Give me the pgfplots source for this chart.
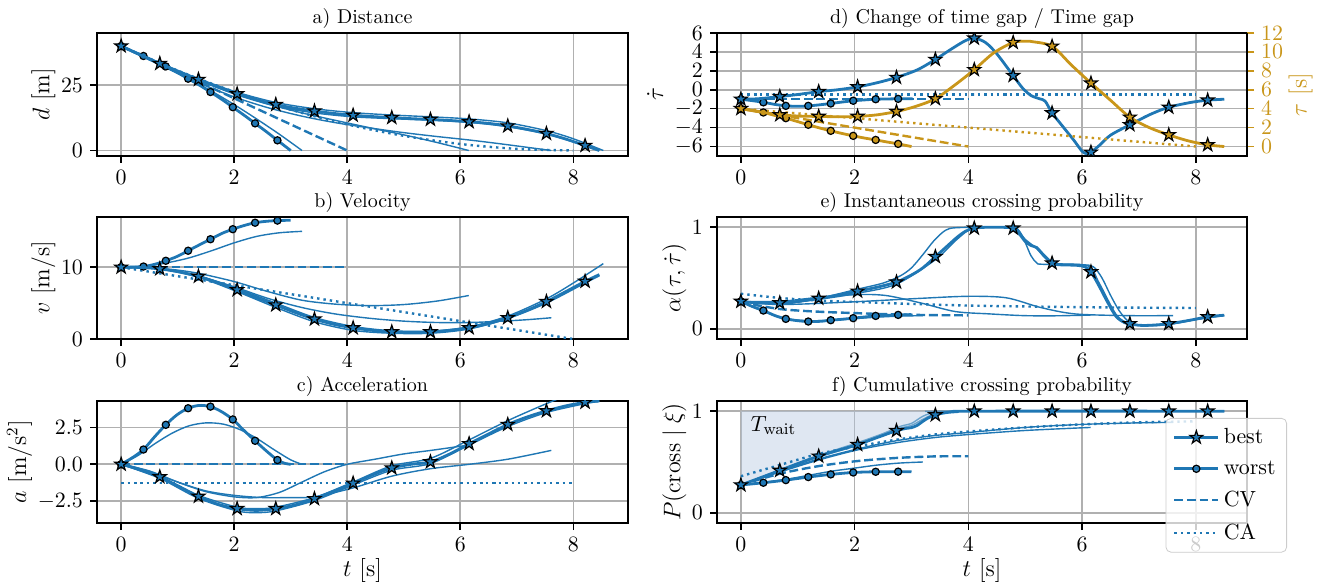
\documentclass[border=0pt]{standalone}
\usepackage{pgfplots}
\pgfplotsset{compat=1.18}
\definecolor{mpblue}{RGB}{31,119,180}
\definecolor{mpgold}{RGB}{201,150,26}
\definecolor{gridgray}{RGB}{176,176,176}
\definecolor{waitfill}{RGB}{176,196,222}
\pgfdeclareplotmark{mstar}{%
  \pgfpathmoveto{\pgfpointpolar{90}{\pgfplotmarksize}}%
  \pgfpathlineto{\pgfpointpolar{126}{0.382\pgfplotmarksize}}%
  \pgfpathlineto{\pgfpointpolar{162}{\pgfplotmarksize}}%
  \pgfpathlineto{\pgfpointpolar{198}{0.382\pgfplotmarksize}}%
  \pgfpathlineto{\pgfpointpolar{234}{\pgfplotmarksize}}%
  \pgfpathlineto{\pgfpointpolar{270}{0.382\pgfplotmarksize}}%
  \pgfpathlineto{\pgfpointpolar{306}{\pgfplotmarksize}}%
  \pgfpathlineto{\pgfpointpolar{342}{0.382\pgfplotmarksize}}%
  \pgfpathlineto{\pgfpointpolar{18}{\pgfplotmarksize}}%
  \pgfpathlineto{\pgfpointpolar{54}{0.382\pgfplotmarksize}}%
  \pgfpathclose
  \pgfusepathqfillstroke
}
\pgfplotsset{
 every axis title shift=0pt,
 base/.style={scale only axis, anchor=south west, grid=major,
   grid style={line width=0.8pt, gridgray},
   axis line style={line width=0.8pt},
   tick align=outside, tick pos=left, major tick length=3.5pt,
   tick style={black, line width=0.8pt},
   ticklabel style={font=\fontsize{10.95}{13}\selectfont},
   label style={font=\large},
   ylabel shift=-4pt, xlabel shift=-3pt,
   title style={font=\normalsize, yshift=-1.5pt},
   clip marker paths=true, xtick={0,2,4,6,8}},
 leftcol/.style={base, width=265.5pt, xmin=-0.427, xmax=8.967},
 rightcol/.style={base, width=265pt, xmin=-0.42, xmax=8.90},
 bestl/.style={mpblue, line width=1.4pt, smooth, tension=0.5, forget plot},
 bestm/.style={only marks, mark=mstar, mark size=3.4pt, mark options={fill=mpblue, draw=black, line width=0.6pt, solid, sharp corners}, forget plot},
 worstl/.style={mpblue, line width=1.4pt, smooth, tension=0.5, forget plot},
 worstm/.style={only marks, mark=*, mark size=1.8pt, mark options={fill=mpblue, draw=black, line width=0.6pt, solid}, forget plot},
 thin/.style={mpblue, line width=0.7pt, smooth, tension=0.5, forget plot},
 cv/.style={mpblue, line width=1.2pt, dash pattern=on 4.4pt off 1.9pt, forget plot},
 ca/.style={mpblue, line width=1.2pt, dash pattern=on 1.2pt off 2pt, smooth, forget plot},
}
\begin{document}
\begin{tikzpicture}
\useasboundingbox (0,0) rectangle (660pt,292pt);
% ---------------- a) Distance
\begin{axis}[leftcol, at={(48.5pt,214pt)}, height=61.5pt, ymin=-2.1, ymax=45, ytick={0,25},
  title={a) Distance}, ylabel={$d$ [m]}]
\addplot[thin] coordinates {(0,40)(0.4,35.97)(0.8,31.82)(1.2,27.44)(1.6,22.72)(2.0,17.58)(2.4,12.04)(2.8,6.22)(3.2,0)};
\addplot[thin] coordinates {(0,40)(0.5,35.1)(1,30.5)(1.4,26.9)(2,22.0)(2.6,17.8)(3.2,14.4)(3.8,11.5)(4.4,8.7)(5,6.0)(5.6,3.0)(6.15,0)};
\addplot[thin] coordinates {(0,40)(0.7,32.6)(1.39,25.8)(1.99,20.6)(2.58,16.5)(3.19,13.2)(3.78,10.7)(4.38,8.7)(4.98,6.9)(5.57,5.4)(6.17,4.0)(6.77,2.4)(7.61,0)};
\addplot[thin] coordinates {(0,40)(0.684,33.4)(1.368,27.5)(2.052,22.3)(2.736,18.4)(3.42,16.0)(4.104,14.5)(4.788,13.6)(5.472,12.9)(6.156,12.1)(6.84,10.6)(7.524,7.6)(8.0,4.5)(8.53,0)};
\addplot[thin] coordinates {(0,40)(0.684,33.2)(1.368,27.0)(2.052,21.3)(2.736,17.0)(3.42,14.4)(4.104,12.9)(4.788,12.2)(5.472,11.6)(6.156,10.8)(6.84,9.1)(7.524,6.3)(8.208,1.9)(8.46,0)};
\addplot[cv] coordinates {(0,40)(4,0)};
\addplot[ca] coordinates {(0,40)(1,30.625)(2,22.5)(3,15.625)(4,10)(5,5.625)(6,2.5)(7,0.625)(8,0)};
\addplot[worstl] coordinates {(0,40)(0.2,38.0)(0.395,36.2)(0.59,34.2)(0.79,32.2)(0.99,29.9)(1.185,27.5)(1.38,25.1)(1.58,22.4)(1.78,19.6)(1.975,16.6)(2.17,13.6)(2.37,10.4)(2.57,7.2)(2.765,3.9)(3.0,0)};
\addplot[worstm] coordinates {(0,40)(0.395,36.2)(0.79,32.2)(1.185,27.5)(1.58,22.4)(1.975,16.6)(2.37,10.4)(2.765,3.9)};
\addplot[bestl] coordinates {(0,40)(0.342,36.6)(0.684,33.3)(1.026,30.2)(1.368,27.2)(1.71,24.3)(2.052,21.7)(2.394,19.5)(2.736,17.6)(3.078,16.2)(3.42,15.1)(3.762,14.2)(4.104,13.5)(4.446,13.0)(4.788,12.6)(5.13,12.2)(5.472,11.9)(5.814,11.5)(6.156,11.0)(6.498,10.4)(6.84,9.4)(7.182,8.1)(7.524,6.5)(7.866,4.4)(8.208,1.9)(8.46,0)};
\addplot[bestm] coordinates {(0,40)(0.684,33.3)(1.368,27.2)(2.052,21.7)(2.736,17.6)(3.42,15.1)(4.104,13.5)(4.788,12.6)(5.472,11.9)(6.156,11.0)(6.84,9.4)(7.524,6.5)(8.208,1.9)};
\end{axis}
% ---------------- b) Velocity
\begin{axis}[leftcol, at={(48.5pt,122.5pt)}, height=61pt, ymin=0, ymax=17, ytick={0,10},
  title={b) Velocity}, ylabel={$v$ [m/s]}]
\addplot[thin] coordinates {(0,10)(0.4,10.15)(0.8,10.6)(1.2,11.3)(1.6,12.3)(2.0,13.4)(2.4,14.3)(2.8,14.8)(3.2,15.0)};
\addplot[thin] coordinates {(0,10)(0.5,9.95)(1.0,9.6)(1.4,9.1)(2.0,8.0)(2.6,6.6)(3.2,5.4)(3.8,4.85)(4.4,4.65)(5.0,4.8)(5.6,5.3)(6.15,6.06)};
\addplot[thin] coordinates {(0,10)(0.7,9.8)(1.39,8.7)(1.99,7.3)(2.58,5.7)(3.19,4.4)(3.78,3.5)(4.38,2.9)(4.98,2.5)(5.57,2.3)(6.17,2.3)(6.77,2.5)(7.2,2.7)(7.61,2.96)};
\addplot[thin] coordinates {(0,10)(0.684,9.8)(1.368,8.8)(2.052,7.0)(2.736,5.0)(3.42,3.0)(4.104,1.75)(4.788,1.15)(5.472,1.1)(6.156,1.7)(6.84,3.2)(7.524,5.6)(8.0,7.8)(8.53,10.5)};
\addplot[thin] coordinates {(0,10)(0.684,9.75)(1.368,8.6)(2.052,6.6)(2.736,4.4)(3.42,2.4)(4.104,1.2)(4.788,0.8)(5.472,0.8)(6.156,1.4)(6.84,2.85)(7.524,5.0)(8.208,7.8)(8.46,8.8)};
\addplot[cv] coordinates {(0,10)(4,10)};
\addplot[ca] coordinates {(0,10)(8,0)};
\addplot[worstl] coordinates {(0,10)(0.2,10.02)(0.395,10.1)(0.59,10.4)(0.79,10.9)(0.99,11.5)(1.185,12.3)(1.38,13.1)(1.58,13.9)(1.78,14.7)(1.975,15.3)(2.17,15.8)(2.37,16.2)(2.57,16.4)(2.765,16.5)(3.0,16.55)};
\addplot[worstm] coordinates {(0,10)(0.395,10.1)(0.79,10.9)(1.185,12.3)(1.58,13.9)(1.975,15.3)(2.37,16.2)(2.765,16.5)};
\addplot[bestl] coordinates {(0,10)(0.342,9.97)(0.684,9.77)(1.026,9.35)(1.368,8.73)(1.71,7.85)(2.052,6.85)(2.394,5.75)(2.736,4.74)(3.078,3.7)(3.42,2.77)(3.762,2.05)(4.104,1.55)(4.446,1.2)(4.788,0.99)(5.13,0.93)(5.472,0.99)(5.814,1.2)(6.156,1.55)(6.498,2.15)(6.84,2.96)(7.182,4.0)(7.524,5.21)(7.866,6.6)(8.208,8.03)(8.46,8.97)};
\addplot[bestm] coordinates {(0,10)(0.684,9.77)(1.368,8.73)(2.052,6.85)(2.736,4.74)(3.42,2.77)(4.104,1.55)(4.788,0.99)(5.472,0.99)(6.156,1.55)(6.84,2.96)(7.524,5.21)(8.208,8.03)};
\end{axis}
% ---------------- c) Acceleration
\begin{axis}[leftcol, at={(48.5pt,30.5pt)}, height=61pt, ymin=-3.97, ymax=4.28, ytick={-2.5,0,2.5},
  yticklabel style={/pgf/number format/fixed, /pgf/number format/precision=1, /pgf/number format/fixed zerofill},
  title={c) Acceleration}, ylabel={$a$ [m/s$^2$]}, xlabel={$t$ [s]}]
\addplot[thin] coordinates {(0,0)(0.3,0.6)(0.6,1.4)(0.9,2.1)(1.2,2.6)(1.5,2.8)(1.8,2.72)(2.1,2.35)(2.4,1.75)(2.7,1.0)(3.0,0.3)(3.2,0)};
\addplot[thin] coordinates {(0,0)(0.5,-0.45)(1.0,-1.2)(1.5,-1.85)(2.0,-2.2)(2.4,-2.25)(2.8,-1.9)(3.2,-1.2)(3.6,-0.5)(4.0,0.0)(4.5,0.35)(5.0,0.7)(5.5,0.95)(6.15,1.3)};
\addplot[thin] coordinates {(0,0)(0.5,-0.5)(1.0,-1.2)(1.5,-1.8)(2.0,-2.1)(2.5,-2.25)(3.0,-2.25)(3.42,-2.2)(4.1,-1.6)(4.79,-0.8)(5.47,-0.3)(6.16,0.0)(6.85,0.35)(7.61,0.94)};
\addplot[thin] coordinates {(0,0)(0.684,-0.9)(1.368,-2.1)(2.052,-2.9)(2.394,-3.0)(2.736,-2.9)(3.42,-2.25)(4.104,-1.2)(4.788,-0.1)(5.472,0.4)(6.156,1.65)(6.84,2.95)(7.524,4.1)(8.0,4.8)(8.53,5.3)};
\addplot[thin] coordinates {(0,0)(0.684,-0.95)(1.368,-2.3)(2.052,-3.15)(2.394,-3.27)(2.736,-3.15)(3.42,-2.45)(4.104,-1.4)(4.788,-0.4)(5.472,0.05)(6.156,1.3)(6.84,2.55)(7.524,3.5)(8.208,4.1)(8.46,4.25)};
\addplot[cv] coordinates {(0,0)(4,0)};
\addplot[ca] coordinates {(0,-1.25)(8,-1.25)};
\addplot[worstl] coordinates {(0,0)(0.2,0.45)(0.395,1.0)(0.59,1.85)(0.79,2.67)(0.99,3.35)(1.185,3.79)(1.38,3.98)(1.58,3.9)(1.78,3.55)(1.975,3.03)(2.17,2.3)(2.37,1.59)(2.57,0.9)(2.765,0.29)(2.9,0.06)(3.0,0)};
\addplot[worstm] coordinates {(0,0)(0.395,1.0)(0.79,2.67)(1.185,3.79)(1.58,3.9)(1.975,3.03)(2.37,1.59)(2.765,0.29)};
\addplot[bestl] coordinates {(0,0)(0.342,-0.35)(0.684,-0.85)(1.026,-1.5)(1.368,-2.17)(1.71,-2.7)(2.052,-3.0)(2.394,-3.12)(2.736,-3.0)(3.078,-2.75)(3.42,-2.33)(3.762,-1.82)(4.104,-1.28)(4.446,-0.72)(4.788,-0.25)(5.13,0.0)(5.472,0.16)(5.814,0.7)(6.156,1.39)(6.498,2.05)(6.84,2.69)(7.182,3.2)(7.524,3.61)(7.866,3.95)(8.208,4.19)(8.46,4.28)};
\addplot[bestm] coordinates {(0,0)(0.684,-0.85)(1.368,-2.17)(2.052,-3.0)(2.736,-3.0)(3.42,-2.33)(4.104,-1.28)(4.788,-0.25)(5.472,0.16)(6.156,1.39)(6.84,2.69)(7.524,3.61)(8.208,4.19)};
\end{axis}
% ---------------- d) tau dot (left)
\begin{axis}[rightcol, at={(358.5pt,214pt)}, height=61.5pt, ymin=-7, ymax=6, ytick={-6,-4,...,6},
  title={d) Change of time gap / Time gap}, ylabel={$\dot{\tau}$}, ylabel shift=-1pt]
\addplot[cv] coordinates {(0,-1)(4,-1)};
\addplot[ca] coordinates {(0,-0.5)(8,-0.5)};
\addplot[worstl] coordinates {(0,-1.0)(0.2,-1.15)(0.41,-1.34)(0.6,-1.55)(0.8,-1.7)(1.0,-1.75)(1.2,-1.7)(1.4,-1.58)(1.58,-1.45)(1.8,-1.28)(1.98,-1.16)(2.2,-1.06)(2.37,-1.0)(2.6,-0.97)(2.77,-0.95)(3.02,-0.95)};
\addplot[worstm] coordinates {(0,-1.0)(0.395,-1.33)(0.79,-1.7)(1.185,-1.7)(1.58,-1.45)(1.975,-1.16)(2.37,-1.0)(2.765,-0.96)};
\addplot[bestl] coordinates {(0,-1.0)(0.3,-0.95)(0.684,-0.72)(1.0,-0.5)(1.368,-0.2)(1.7,0.0)(2.052,0.3)(2.4,0.75)(2.736,1.3)(3.1,2.1)(3.42,3.2)(3.7,4.3)(3.95,5.2)(4.104,5.45)(4.3,5.0)(4.5,3.8)(4.788,1.5)(4.95,0.2)(5.1,-0.6)(5.25,-0.95)(5.35,-1.2)(5.472,-2.45)(5.65,-3.8)(5.85,-5.3)(6.0,-6.5)(6.08,-6.75)(6.156,-6.6)(6.3,-5.9)(6.5,-4.8)(6.84,-3.7)(7.2,-2.6)(7.524,-1.85)(7.9,-1.35)(8.208,-1.1)(8.5,-1.0)};
\addplot[bestm] coordinates {(0,-1.0)(0.684,-0.72)(1.368,-0.2)(2.052,0.3)(2.736,1.3)(3.42,3.2)(4.104,5.45)(4.788,1.5)(5.472,-2.45)(6.156,-6.6)(6.84,-3.7)(7.524,-1.85)(8.208,-1.1)};
\end{axis}
% ---------------- d) tau (right)
\begin{axis}[scale only axis, anchor=south west, at={(358.5pt,214pt)}, width=265pt, height=61.5pt,
  xmin=-0.42, xmax=8.90, ymin=-1, ymax=12, ytick={0,2,...,12},
  axis x line=none, axis y line*=right, axis line style={line width=0.8pt},
  tick align=outside, major tick length=3.5pt, tick style={mpgold, line width=0.8pt},
  ticklabel style={font=\fontsize{10.95}{13}\selectfont, text=mpgold},
  ylabel={$\tau$ [s]}, ylabel style={font=\large, text=mpgold}, ylabel shift=-4pt, clip marker paths=true]
\addplot[cv, mpgold] coordinates {(0,4)(4,0)};
\addplot[ca, mpgold] coordinates {(0,4)(8,0)};
\addplot[worstl, mpgold] coordinates {(0,4.0)(0.2,3.83)(0.395,3.6)(0.59,3.3)(0.79,3.0)(0.99,2.65)(1.185,2.3)(1.38,1.97)(1.58,1.66)(1.78,1.38)(1.975,1.13)(2.17,0.9)(2.37,0.7)(2.57,0.48)(2.765,0.28)(3.0,0)};
\addplot[worstm, mark options={fill=mpgold, draw=black, line width=0.6pt}] coordinates {(0,4)(0.395,3.6)(0.79,3.0)(1.185,2.3)(1.58,1.66)(1.975,1.13)(2.37,0.7)(2.765,0.28)};
\addplot[bestl, mpgold] coordinates {(0,4.0)(0.342,3.65)(0.684,3.35)(1.026,3.22)(1.368,3.18)(1.71,3.15)(2.052,3.18)(2.394,3.35)(2.736,3.7)(3.078,4.25)(3.42,5.05)(3.762,6.5)(4.104,8.12)(4.446,9.9)(4.788,11.0)(5.0,11.12)(5.13,11.08)(5.472,10.6)(5.814,8.6)(6.156,6.7)(6.498,4.9)(6.84,3.1)(7.182,2.0)(7.524,1.23)(7.866,0.6)(8.208,0.18)(8.5,0)};
\addplot[bestm, mark options={fill=mpgold, draw=black, line width=0.6pt, sharp corners}] coordinates {(0,4)(0.684,3.35)(1.368,3.18)(2.052,3.18)(2.736,3.7)(3.42,5.05)(4.104,8.12)(4.788,11.0)(5.472,10.6)(6.156,6.7)(6.84,3.1)(7.524,1.23)(8.208,0.18)};
\end{axis}
% ---------------- e) alpha
\begin{axis}[rightcol, at={(358.5pt,122.5pt)}, height=61pt, ymin=-0.1, ymax=1.1, ytick={0,1},
  title={e) Instantaneous crossing probability}, ylabel={$\alpha(\tau,\dot{\tau})$}]
\addplot[thin] coordinates {(0,0.27)(0.4,0.17)(0.8,0.1)(1.2,0.08)(1.6,0.085)(2.0,0.1)(2.4,0.115)(2.8,0.125)(3.2,0.13)};
\addplot[thin] coordinates {(0,0.27)(0.68,0.27)(1.37,0.31)(2.06,0.337)(2.56,0.327)(3.16,0.255)(3.77,0.17)(4.37,0.147)(4.97,0.13)(5.5,0.128)(6.15,0.135)};
\addplot[thin] coordinates {(0,0.27)(0.75,0.24)(1.96,0.265)(3.16,0.30)(4.0,0.32)(4.67,0.305)(5.27,0.21)(5.87,0.147)(6.78,0.13)(7.6,0.13)};
\addplot[thin] coordinates {(0,0.27)(0.684,0.24)(1.368,0.3)(2.052,0.39)(2.5,0.45)(2.8,0.52)(3.0,0.6)(3.2,0.73)(3.4,0.87)(3.6,0.97)(3.8,0.995)(4.5,1.0)(4.8,1.0)(4.9,0.96)(5.0,0.85)(5.1,0.72)(5.2,0.65)(5.3,0.635)(6.0,0.63)(6.2,0.61)(6.35,0.5)(6.5,0.33)(6.65,0.18)(6.8,0.08)(6.95,0.04)(7.2,0.035)(7.6,0.05)(8.0,0.09)(8.5,0.13)};
\addplot[thin] coordinates {(0,0.27)(0.684,0.25)(1.368,0.29)(2.052,0.35)(2.736,0.44)(3.42,0.68)(3.8,0.88)(4.104,0.99)(4.788,0.99)(5.0,0.88)(5.2,0.79)(5.472,0.65)(6.1,0.62)(6.3,0.45)(6.6,0.14)(6.84,0.05)(7.2,0.03)(7.524,0.045)(8.208,0.115)(8.46,0.13)};
\addplot[cv, smooth] coordinates {(0,0.27)(0.3,0.23)(0.684,0.195)(1.0,0.18)(1.5,0.165)(2.0,0.155)(2.5,0.145)(3.0,0.138)(3.5,0.134)(4.0,0.133)};
\addplot[ca] coordinates {(0,0.345)(0.68,0.304)(1.37,0.278)(2,0.265)(3,0.245)(4,0.229)(5,0.22)(6,0.213)(7,0.208)(8,0.205)};
\addplot[worstl] coordinates {(0,0.27)(0.2,0.22)(0.395,0.18)(0.6,0.13)(0.79,0.098)(1.0,0.08)(1.185,0.072)(1.4,0.074)(1.58,0.085)(1.8,0.095)(1.975,0.105)(2.2,0.118)(2.37,0.127)(2.6,0.134)(2.765,0.137)(3.0,0.14)};
\addplot[worstm] coordinates {(0,0.27)(0.395,0.18)(0.79,0.098)(1.185,0.072)(1.58,0.085)(1.975,0.105)(2.37,0.127)(2.765,0.137)};
\addplot[bestl] coordinates {(0,0.27)(0.3,0.255)(0.684,0.255)(1.0,0.27)(1.368,0.30)(1.7,0.33)(2.052,0.37)(2.4,0.41)(2.736,0.46)(3.0,0.53)(3.2,0.6)(3.42,0.71)(3.6,0.8)(3.8,0.9)(3.95,0.96)(4.104,0.99)(4.4,1.0)(4.788,0.99)(4.9,0.93)(5.0,0.86)(5.1,0.82)(5.2,0.80)(5.3,0.74)(5.472,0.647)(5.6,0.63)(5.9,0.625)(6.05,0.61)(6.156,0.56)(6.3,0.42)(6.45,0.26)(6.6,0.12)(6.75,0.06)(6.84,0.05)(7.0,0.035)(7.2,0.035)(7.524,0.05)(7.9,0.085)(8.208,0.118)(8.5,0.134)};
\addplot[bestm] coordinates {(0,0.27)(0.684,0.255)(1.368,0.30)(2.052,0.37)(2.736,0.46)(3.42,0.71)(4.104,0.99)(4.788,0.99)(5.472,0.647)(6.156,0.56)(6.84,0.05)(7.524,0.05)(8.208,0.118)};
\end{axis}
% ---------------- f) cumulative
\begin{axis}[rightcol, at={(358.5pt,30.5pt)}, height=61pt, ymin=-0.1, ymax=1.1, ytick={0,1},
  title={f) Cumulative crossing probability}, ylabel={$P(\mathrm{cross}\mid\xi)$}, xlabel={$t$ [s]},
  legend style={at={(1.0755,0.861)}, anchor=north east, draw=black!20, rounded corners=2.5pt,
    fill=white, fill opacity=0.8, text opacity=1, draw opacity=1,
    font=\fontsize{10.95}{13}\selectfont, row sep=3pt, inner xsep=3.5pt, inner ysep=3pt,
    /tikz/every even column/.append style={column sep=6pt}},
  legend cell align=left,
  legend image code/.code={\draw[mark repeat=2,mark phase=2,#1] plot coordinates {(0pt,0pt) (11pt,0pt) (22pt,0pt)};}]
\addlegendimage{mpblue, line width=1.4pt, mark=mstar, mark size=3.4pt, mark options={fill=mpblue, draw=black, line width=0.6pt, solid, sharp corners}}
\addlegendentry{best}
\addlegendimage{mpblue, line width=1.4pt, mark=*, mark size=1.8pt, mark options={fill=mpblue, draw=black, line width=0.6pt, solid}}
\addlegendentry{worst}
\addlegendimage{mpblue, line width=1.2pt, dash pattern=on 4.4pt off 1.9pt}
\addlegendentry{CV}
\addlegendimage{mpblue, line width=1.2pt, dash pattern=on 1.2pt off 2pt}
\addlegendentry{CA}
\addplot[fill=waitfill, fill opacity=0.4, draw=none, forget plot] coordinates {(0,1)(0,0.274)(0.342,0.345)(0.684,0.417)(1.026,0.49)(1.368,0.557)(1.71,0.615)(2.052,0.671)(2.394,0.74)(2.736,0.808)(2.9,0.83)(3.0,0.838)(3.1,0.86)(3.2,0.9)(3.3,0.935)(3.42,0.963)(3.6,0.985)(3.8,0.995)(4.0,1.0)};
\node[anchor=west, font=\fontsize{10.95}{13}\selectfont] at (axis cs:0.05,0.86) {$T_{\mathrm{wait}}$};
\addplot[thin] coordinates {(0,0.274)(0.4,0.3)(0.8,0.33)(1.2,0.37)(1.6,0.41)(2.0,0.44)(2.4,0.47)(2.8,0.49)(3.2,0.5)};
\addplot[thin] coordinates {(0,0.274)(0.68,0.40)(1.37,0.52)(2.06,0.62)(2.74,0.69)(3.4,0.74)(4.0,0.77)(5.0,0.81)(6.15,0.84)};
\addplot[thin] coordinates {(0,0.274)(0.68,0.41)(1.37,0.53)(2.06,0.63)(2.74,0.71)(3.4,0.76)(4.0,0.79)(5.0,0.84)(6.0,0.87)(7.0,0.885)(7.6,0.89)};
\addplot[thin, opacity=0.6] coordinates {(0,0.274)(0.684,0.42)(1.368,0.565)(2.052,0.69)(2.5,0.78)(2.8,0.85)(3.0,0.88)(3.2,0.95)(3.4,0.99)(3.6,1.0)(8.5,1.0)};
\addplot[thin, opacity=0.6] coordinates {(0,0.274)(0.684,0.415)(1.368,0.55)(2.052,0.665)(2.736,0.82)(3.0,0.86)(3.2,0.92)(3.42,0.97)(4.0,1.0)(8.46,1.0)};
\addplot[cv, smooth] coordinates {(0,0.274)(0.68,0.384)(1.37,0.46)(2.06,0.51)(2.74,0.54)(3.4,0.555)(4,0.557)};
\addplot[ca] coordinates {(0,0.36)(0.68,0.47)(1.37,0.58)(2.06,0.655)(2.74,0.72)(3.4,0.77)(4,0.80)(5,0.84)(6,0.87)(7,0.89)(8,0.9)};
\addplot[worstl] coordinates {(0,0.274)(0.395,0.296)(0.79,0.322)(1.185,0.352)(1.58,0.378)(1.975,0.397)(2.37,0.404)(2.765,0.405)(3.0,0.405)};
\addplot[worstm] coordinates {(0,0.274)(0.395,0.296)(0.79,0.322)(1.185,0.352)(1.58,0.378)(1.975,0.397)(2.37,0.404)(2.765,0.405)};
\addplot[bestl] coordinates {(0,0.274)(0.342,0.345)(0.684,0.417)(1.026,0.49)(1.368,0.557)(1.71,0.615)(2.052,0.671)(2.394,0.74)(2.736,0.808)(2.9,0.83)(3.0,0.838)(3.1,0.86)(3.2,0.9)(3.3,0.935)(3.42,0.963)(3.6,0.985)(3.8,0.995)(4.104,1.0)(8.5,1.0)};
\addplot[bestm] coordinates {(0,0.274)(0.684,0.417)(1.368,0.557)(2.052,0.671)(2.736,0.808)(3.42,0.963)(4.104,1)(4.788,1)(5.472,1)(6.156,1)(6.84,1)(7.524,1)(8.208,1)};
\end{axis}
\end{tikzpicture}
\end{document}
